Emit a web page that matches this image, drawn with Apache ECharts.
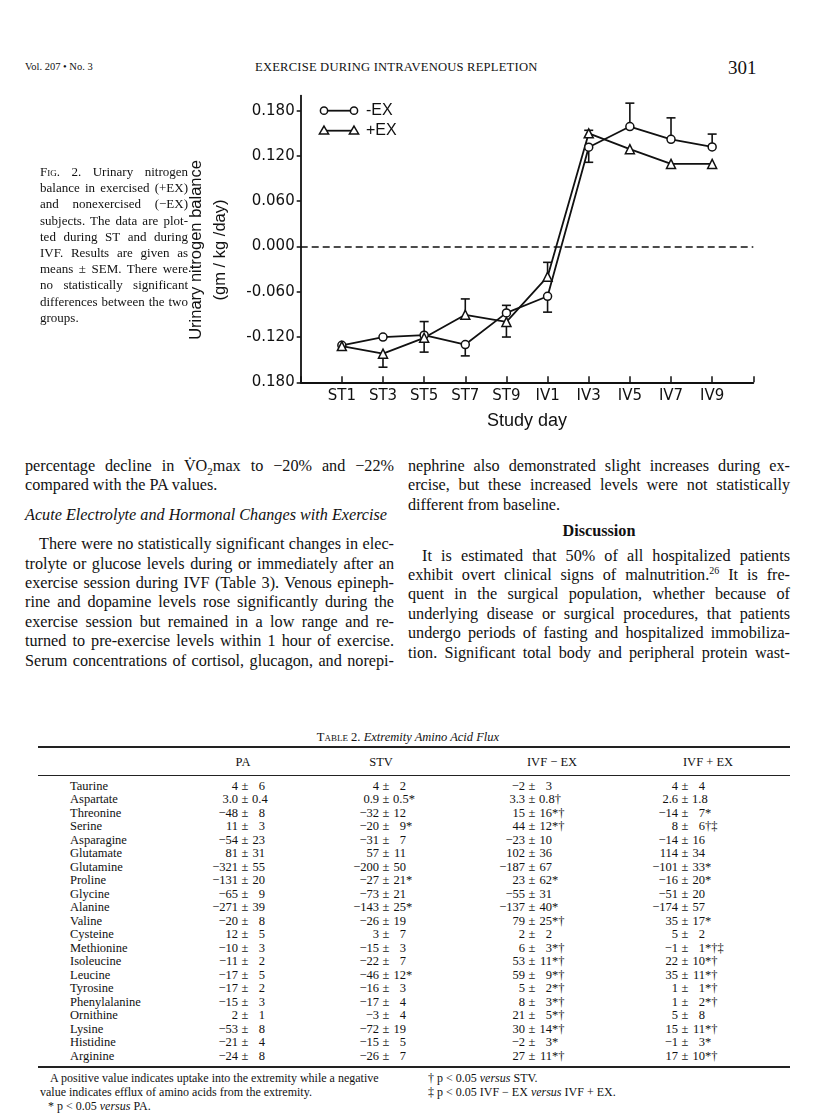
<!DOCTYPE html>
<html>
<head>
<meta charset="utf-8">
<script src="https://cdn.jsdelivr.net/npm/echarts@6/dist/echarts.min.js"></script>
<style>
  html, body { margin: 0; padding: 0; background: #fff; }
  #page { position: relative; width: 816px; height: 1119px; overflow: hidden; background: #fff; color: #111; font-family: "Liberation Serif", serif; }
  #chart { position: absolute; left: 0; top: 0; width: 816px; height: 440px; }
  .abs { position: absolute; white-space: nowrap; }
  .jl { text-align: justify; text-align-last: justify; }
  .ll { text-align: left; text-align-last: left; }
  .cap { position: absolute; left: 40px; top: 164px; width: 148px; font-size: 13px; line-height: 16.2px; }
  .cap div { height: 16.2px; white-space: nowrap; }
  .col { position: absolute; top: 457px; font-size: 16.2px; line-height: 19.4px; }
  .col div { height: 19.4px; white-space: nowrap; }
  .col sub, .col sup { line-height: 0; }
  .sc { font-variant: small-caps; }
  .tbl { font-size: 12.5px; }
  .cell { position: absolute; width: 140px; white-space: nowrap; font-size: 12.5px; }
  .num { display: inline-block; width: 62px; text-align: right; }
  .pm { display: inline-block; width: 14px; text-align: center; }
  .sem { display: inline-block; min-width: 13px; text-align: right; }
  .rule { position: absolute; left: 38px; width: 752px; background: #222; }
  .fn { position: absolute; font-size: 12px; white-space: nowrap; }
</style>
</head>
<body>
<div id="page">
  <div class="abs" style="left:25px; top:61px; font-size:10.5px;">Vol. 207 • No. 3</div>
  <div class="abs" style="left:255px; top:60px; font-size:12.6px; letter-spacing:0.2px;">EXERCISE DURING INTRAVENOUS REPLETION</div>
  <div class="abs" style="left:728px; top:57px; font-size:19px;">301</div>

  <div id="chart"></div>

  <div class="cap">
    <div class="jl"><span class="sc">Fig.</span> 2. Urinary nitrogen</div>
    <div class="jl">balance in exercised (+EX)</div>
    <div class="jl">and nonexercised (−EX)</div>
    <div class="jl">subjects. The data are plot-</div>
    <div class="jl">ted during ST and during</div>
    <div class="jl">IVF. Results are given as</div>
    <div class="jl">means ± SEM. There were</div>
    <div class="jl">no statistically significant</div>
    <div class="jl">differences between the two</div>
    <div class="ll">groups.</div>
  </div>

  <div class="col" style="left:25px; width:369px;">
    <div class="jl">percentage decline in V̇O<sub style="font-size:11px;">2</sub>max to −20% and −22%</div>
    <div class="ll">compared with the PA values.</div>
    <div class="ll" style="height:10px;"></div>
    <div class="ll" style="font-style:italic;">Acute Electrolyte and Hormonal Changes with Exercise</div>
    <div class="ll" style="height:10px;"></div>
    <div class="jl" style="padding-left:14px;">There were no statistically significant changes in elec-</div>
    <div class="jl">trolyte or glucose levels during or immediately after an</div>
    <div class="jl">exercise session during IVF (Table 3). Venous epineph-</div>
    <div class="jl">rine and dopamine levels rose significantly during the</div>
    <div class="jl">exercise session but remained in a low range and re-</div>
    <div class="jl">turned to pre-exercise levels within 1 hour of exercise.</div>
    <div class="jl">Serum concentrations of cortisol, glucagon, and norepi-</div>
  </div>

  <div class="col" style="left:408px; width:382px;">
    <div class="jl">nephrine also demonstrated slight increases during ex-</div>
    <div class="jl">ercise, but these increased levels were not statistically</div>
    <div class="ll">different from baseline.</div>
    <div style="height:7px;"></div>
    <div style="text-align:center; font-weight:bold;">Discussion</div>
    <div style="height:5px;"></div>
    <div class="jl" style="padding-left:14px;">It is estimated that 50% of all hospitalized patients</div>
    <div class="jl">exhibit overt clinical signs of malnutrition.<sup style="font-size:10px;">26</sup> It is fre-</div>
    <div class="jl">quent in the surgical population, whether because of</div>
    <div class="jl">underlying disease or surgical procedures, that patients</div>
    <div class="jl">undergo periods of fasting and hospitalized immobiliza-</div>
    <div class="jl">tion. Significant total body and peripheral protein wast-</div>
  </div>

  <div class="abs tbl" style="left:0; width:816px; top:730px; text-align:center;"><span class="sc">Table 2.</span> <i>Extremity Amino Acid Flux</i></div>
  <div class="rule" style="top:746px; height:1.5px;"></div>
  <div id="thead"></div>
  <div class="rule" style="top:775px; height:1px;"></div>
  <div id="tbody"></div>
  <div class="rule" style="top:1066px; height:1.5px;"></div>
  <div class="fn" style="left:50px; top:1071px;">A positive value indicates uptake into the extremity while a negative</div>
  <div class="fn" style="left:40px; top:1085px;">value indicates efflux of amino acids from the extremity.</div>
  <div class="fn" style="left:48px; top:1099px;">* p &lt; 0.05 <i>versus</i> PA.</div>
  <div class="fn" style="left:428px; top:1071px;">† p &lt; 0.05 <i>versus</i> STV.</div>
  <div class="fn" style="left:428px; top:1085px;">‡ p &lt; 0.05 IVF − EX <i>versus</i> IVF + EX.</div>
</div>

<script>
// ---------------- Chart data ----------------
const days = ['ST1', 'ST3', 'ST5', 'ST7', 'ST9', 'IV1', 'IV3', 'IV5', 'IV7', 'IV9'];
const minusEX = [-0.131, -0.120, -0.1175, -0.130, -0.088, -0.066, 0.1316, 0.159, 0.142, 0.132];
const plusEX  = [-0.132, -0.142, -0.121, -0.0905, -0.100, -0.040, 0.150, 0.129, 0.1095, 0.1095];
// signed SEM whisker (positive = drawn upward, negative = downward, 0 = none)
const minusSEM = [0, 0, 0.018, -0.015, 0.010, -0.021, -0.020, 0.031, 0.0285, 0.017];
const plusSEM  = [0, -0.018, -0.019, 0.021, -0.020, 0.019, 0.004, 0, 0, 0];
const yTickValues = [-0.18, -0.12, -0.06, 0, 0.06, 0.12, 0.18];
const yTickLabels = ['0.180', '-0.120', '-0.060', '0.000', '0.060', '0.120', '0.180'];
const seriesNames = ['-EX', '+EX'];

// ---------------- Table text ----------------
const tableHeads = ['PA', 'STV', 'IVF − EX', 'IVF + EX'];
const aminoAcids = ['Taurine','Aspartate','Threonine','Serine','Asparagine','Glutamate','Glutamine','Proline','Glycine','Alanine','Valine','Cysteine','Methionine','Isoleucine','Leucine','Tyrosine','Phenylalanine','Ornithine','Lysine','Histidine','Arginine'];
const colPA  = ['4|6','3.0|0.4','−48|8','11|3','−54|23','81|31','−321|55','−131|20','−65|9','−271|39','−20|8','12|5','−10|3','−11|2','−17|5','−17|2','−15|3','2|1','−53|8','−21|4','−24|8'];
const colSTV = ['4|2','0.9|0.5*','−32|12','−20|9*','−31|7','57|11','−200|50','−27|21*','−73|21','−143|25*','−26|19','3|7','−15|3','−22|7','−46|12*','−16|3','−17|4','−3|4','−72|19','−15|5','−26|7'];
const colIVFm = ['−2|3','3.3|0.8†','15|16*†','44|12*†','−23|10','102|36','−187|67','23|62*','−55|31','−137|40*','79|25*†','2|2','6|3*†','53|11*†','59|9*†','5|2*†','8|3*†','21|5*†','30|14*†','−2|3*','27|11*†'];
const colIVFp = ['4|4','2.6|1.8','−14|7*','8|6†‡','−14|16','114|34','−101|33*','−16|20*','−51|20','−174|57','35|17*','5|2','−1|1*†‡','22|10*†','35|11*†','1|1*†','1|2*†','5|8','15|11*†','−1|3*','17|10*†'];

(function buildTable(){
  const pmX = [245, 386, 532, 685];
  const headX = [243, 381, 552, 708];
  const th = document.getElementById('thead');
  tableHeads.forEach((h, i) => {
    const d = document.createElement('div');
    d.className = 'abs tbl';
    d.style.left = (headX[i] - 50) + 'px'; d.style.width = '100px'; d.style.textAlign = 'center';
    d.style.top = '755px'; d.textContent = h;
    th.appendChild(d);
  });
  const tb = document.getElementById('tbody');
  const cols = [colPA, colSTV, colIVFm, colIVFp];
  aminoAcids.forEach((name, r) => {
    const top = 778.5 + r * 13.5;
    const n = document.createElement('div');
    n.className = 'abs tbl'; n.style.left = '70px'; n.style.top = top + 'px'; n.textContent = name;
    tb.appendChild(n);
    cols.forEach((col, c) => {
      const parts = col[r].split('|');
      const m = parts[1].match(/^([0-9.]+)(.*)$/);
      const cell = document.createElement('div');
      cell.className = 'cell';
      cell.style.left = (pmX[c] - 69) + 'px'; cell.style.top = top + 'px';
      cell.innerHTML = '<span class="num">' + parts[0] + '</span><span class="pm">±</span><span class="sem">' + m[1] + '</span>' + m[2];
      tb.appendChild(cell);
    });
  });
})();

// ---------------- Chart ----------------
const chart = echarts.init(document.getElementById('chart'), null, { renderer: 'canvas' });
const ink = '#111';
const axisFont = '"DejaVu Sans", sans-serif';
const titleFont = '"Liberation Sans", Arial, sans-serif';

const minusData = days.map((d, i) => [i + 1, minusEX[i]]);
const plusData = days.map((d, i) => [i + 1, plusEX[i]]);
const errData = [];
days.forEach((d, i) => {
  if (minusSEM[i] !== 0) errData.push([i + 1, minusEX[i], minusSEM[i]]);
  if (plusSEM[i] !== 0) errData.push([i + 1, plusEX[i], plusSEM[i]]);
});

function renderErr(params, api) {
  const x = api.value(0), y = api.value(1), e = api.value(2);
  const p0 = api.coord([x, y]);
  const p1 = api.coord([x, y + e]);
  const st = { stroke: ink, lineWidth: 1.6 };
  return {
    type: 'group',
    children: [
      { type: 'line', shape: { x1: p0[0], y1: p0[1], x2: p1[0], y2: p1[1] }, style: st },
      { type: 'line', shape: { x1: p1[0] - 4.5, y1: p1[1], x2: p1[0] + 4.5, y2: p1[1] }, style: st }
    ]
  };
}

const legendX = 324, legendY = 110.7, legendGap = 20, legendLen = 30;
function legendRow(row, symbolType) {
  const y = legendY + row * legendGap;
  const kids = [
    { type: 'line', shape: { x1: legendX, y1: y, x2: legendX + legendLen, y2: y }, style: { stroke: ink, lineWidth: 1.8 } }
  ];
  [legendX, legendX + legendLen].forEach(cx => {
    if (symbolType === 'circle') {
      kids.push({ type: 'circle', shape: { cx: cx, cy: y, r: 3.6 }, style: { fill: '#fff', stroke: ink, lineWidth: 1.5 } });
    } else {
      kids.push({ type: 'polygon', shape: { points: [[cx, y - 4.6], [cx + 4.6, y + 3.2], [cx - 4.6, y + 3.2]] }, style: { fill: '#fff', stroke: ink, lineWidth: 1.5 } });
    }
  });
  kids.push({ type: 'text', x: legendX + legendLen + 12, y: y, style: { text: seriesNames[row], font: '16px ' + titleFont, fill: ink, textVerticalAlign: 'middle', textAlign: 'left' } });
  return { type: 'group', children: kids };
}

function yLabel(v) {
  for (let k = 0; k < yTickValues.length; k++) {
    if (Math.abs(yTickValues[k] - v) < 1e-9) return yTickLabels[k];
  }
  return '';
}

chart.setOption({
  animation: false,
  backgroundColor: 'transparent',
  grid: { left: 300.7, right: 62.7, top: 95.6, height: 286.7, containLabel: false },
  xAxis: {
    type: 'value', min: 0, max: 11, interval: 1,
    axisLine: { onZero: false, lineStyle: { color: ink, width: 1.8 } },
    axisTick: { inside: true, length: 6, lineStyle: { color: ink, width: 1.5 } },
    axisLabel: {
      customValues: days.map((d, i) => i + 1),
      formatter: v => days[Math.round(v) - 1] || '',
      color: ink, fontFamily: axisFont, fontSize: 15, margin: 6
    },
    splitLine: { show: false },
    name: 'Study day', nameLocation: 'middle', nameGap: 30,
    nameTextStyle: { color: ink, fontFamily: titleFont, fontSize: 18 }
  },
  yAxis: {
    type: 'value', min: -0.18, max: 0.2,
    axisLine: { onZero: false, lineStyle: { color: ink, width: 1.8 } },
    axisTick: { customValues: yTickValues, length: 4, lineStyle: { color: ink, width: 1.5 } },
    axisLabel: { customValues: yTickValues, formatter: yLabel, color: ink, fontFamily: axisFont, fontSize: 15, margin: 6 },
    splitLine: { show: false },
    name: 'Urinary nitrogen balance\n(gm / kg /day)', nameLocation: 'middle', nameGap: 68, nameRotate: 90,
    nameTextStyle: { color: ink, fontFamily: titleFont, fontSize: 16.5, lineHeight: 24, align: 'center', padding: [0, 22, 0, 0] }
  },
  graphic: [legendRow(0, 'circle'), legendRow(1, 'triangle')],
  series: [
    {
      name: 'err', type: 'custom', renderItem: renderErr, data: errData,
      encode: { x: 0, y: 1 }, z: 1, silent: true
    },
    {
      name: seriesNames[0], type: 'line', data: minusData, z: 3,
      symbol: 'circle', symbolSize: 8, showAllSymbol: true,
      lineStyle: { color: ink, width: 1.8 },
      itemStyle: { color: '#fff', borderColor: ink, borderWidth: 1.5 },
      markLine: {
        silent: true, symbol: 'none', label: { show: false },
        lineStyle: { color: ink, width: 1.5, type: [7, 4] },
        data: [{ yAxis: 0 }]
      }
    },
    {
      name: seriesNames[1], type: 'line', data: plusData, z: 3,
      symbol: 'triangle', symbolSize: 9, showAllSymbol: true,
      lineStyle: { color: ink, width: 1.8 },
      itemStyle: { color: '#fff', borderColor: ink, borderWidth: 1.5 }
    }
  ]
});
</script>
</body>
</html>
